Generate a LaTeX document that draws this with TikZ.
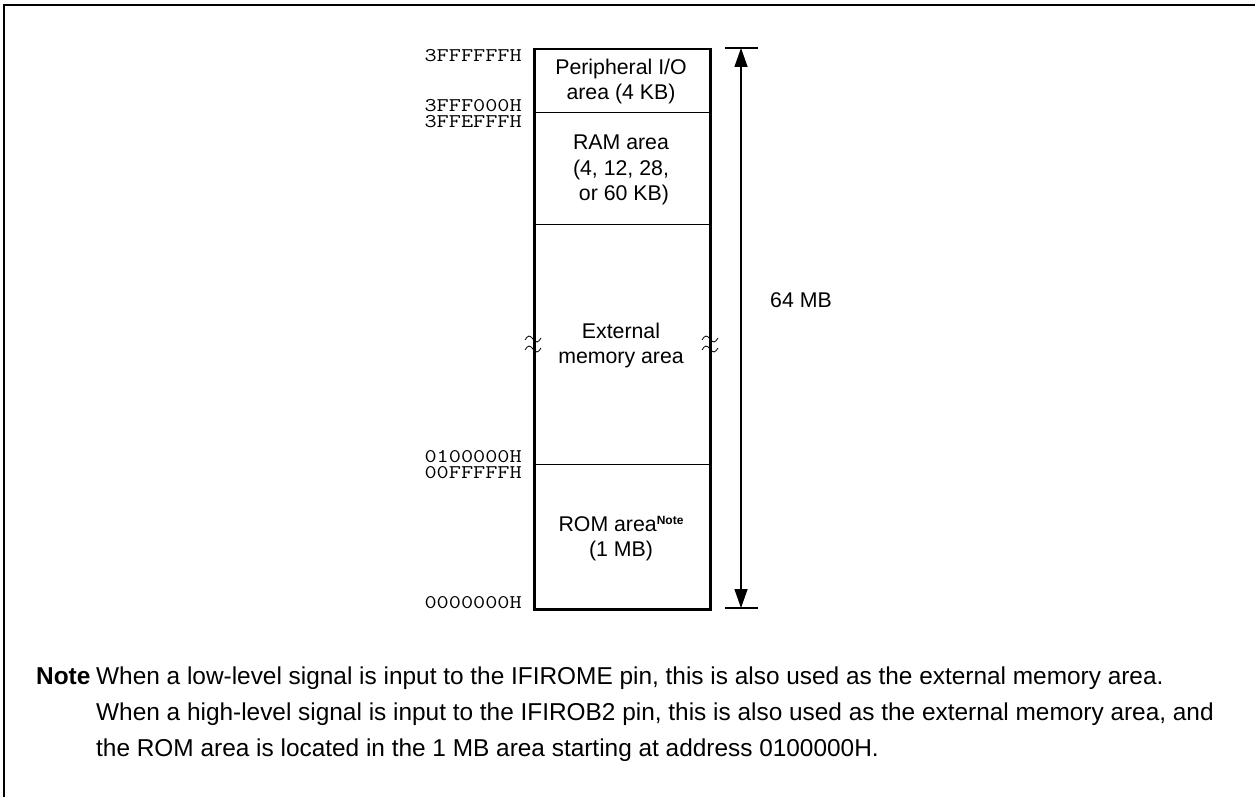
\documentclass[tikz,border=0pt]{standalone}
\usepackage{fontspec}
\usepackage{graphicx}
\setmainfont{Liberation Sans}
\usetikzlibrary{arrows.meta}
\newcommand{\addrtext}[1]{\scalebox{1}[0.82]{#1}}
\begin{document}
\begin{tikzpicture}[x=1pt,y=-1pt,
  addr/.style={font=\ttfamily\fontsize{23.6}{23.6}\selectfont, anchor=east, inner sep=0},
  area/.style={font=\fontsize{21.3}{25.5}\selectfont, align=center, inner sep=0},
  notetext/.style={font=\fontsize{24.4}{24.4}\selectfont, anchor=base west, inner sep=0},
  divider/.style={line width=0.9pt},
  dim/.style={line width=1.3pt},
  brk/.style={line width=0.8pt}]
\useasboundingbox (0,0) rectangle (1257,797);
\draw[line width=2pt] (4,797) -- (4,5) -- (1255,5);

% memory box
\node[draw, line width=2.5pt, minimum width=176pt, minimum height=560pt, inner sep=0, anchor=north west] (mem) at (533,48) {};
\draw[divider] (mem.west |- 0,112) -- (mem.east |- 0,112);
\draw[divider] (mem.west |- 0,224) -- (mem.east |- 0,224);
\draw[divider] (mem.west |- 0,464) -- (mem.east |- 0,464);

% area texts
\node[area] (pio) at (621,81.5) {Peripheral I/O\\area (4 KB)};
\node[area] (ram) at (621,170) {RAM area\\(4, 12, 28,\\\ or 60 KB)};
\node[area] (ext) at (621,345.5) {External\\memory area};
\node[area] (rom) at (621,538.5) {ROM area{\raisebox{0.32em}{\fontsize{12}{12}\selectfont\bfseries Note}}\\(1 MB)};

% addresses
\node[addr] (a1) at (522,56) {\addrtext{3FFFFFFH}};
\node[addr] (a2) at (522,106) {\addrtext{3FFF000H}};
\node[addr] (a3) at (522,121.5) {\addrtext{3FFEFFFH}};
\node[addr] (a4) at (522,456.5) {\addrtext{0100000H}};
\node[addr] (a5) at (522,472.5) {\addrtext{00FFFFFH}};
\node[addr] (a6) at (522,603) {\addrtext{0000000H}};

% break marks
\foreach \cx in {533,710}{
  \foreach \cy in {339,349}{
    \draw[brk] (\cx-8,\cy+1) sin (\cx-4,\cy-3) cos (\cx,\cy) sin (\cx+4,\cy+3) cos (\cx+8,\cy-1);
  }
}

% dimension arrow
\coordinate (tl) at (725,48);
\coordinate (tr) at (758,48);
\coordinate (bl) at (725,608);
\coordinate (br) at (758,608);
\coordinate (at) at (741,48);
\coordinate (ab) at (741,608);
\draw[dim] (tl) -- (tr);
\draw[dim] (bl) -- (br);
\draw[dim, {Triangle[length=19pt,width=13pt]}-{Triangle[length=19pt,width=13pt]}] (at) -- (ab);
\node[area] (size) at (801,300) {64 MB};

% note
\node[notetext, font=\fontsize{24.4}{24.4}\selectfont\bfseries] (notelbl) at (36,684) {Note};
\node[notetext] (n1) at (96,684) {When a low-level signal is input to the IFIROME pin, this is also used as the external memory area.};
\node[notetext] (n2) at (96,720) {When a high-level signal is input to the IFIROB2 pin, this is also used as the external memory area, and};
\node[notetext] (n3) at (96,756) {the ROM area is located in the 1 MB area starting at address 0100000H.};
\end{tikzpicture}
\end{document}
